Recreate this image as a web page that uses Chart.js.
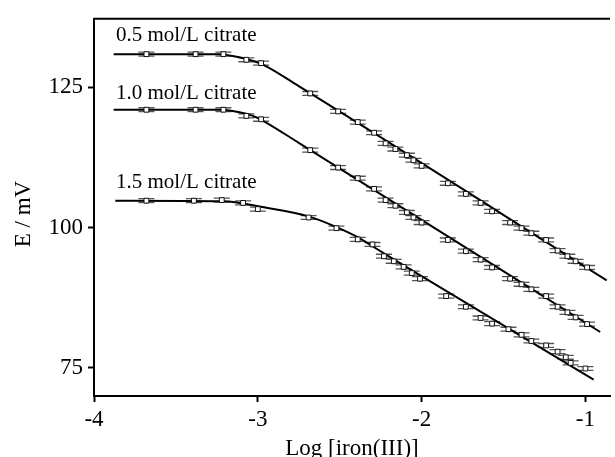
<!DOCTYPE html>
<html>
<head>
<meta charset="utf-8">
<script src="https://cdn.jsdelivr.net/npm/chart.js@4"></script>
<style>
  html, body { margin: 0; padding: 0; background: #fff; }
  #chart { display: block; }
</style>
</head>
<body>
<canvas id="chart" width="615" height="457"></canvas>
<script>
// log [iron(III)] for the 0.5 and 1.0 mol/L series
const LOG_FE_A = [-3.68, -3.38, -3.21, -3.07, -2.98, -2.68, -2.51, -2.39, -2.29, -2.22, -2.16, -2.09, -2.05, -2.00,
  -1.84, -1.73, -1.64, -1.57, -1.46, -1.39, -1.33, -1.24, -1.17, -1.11, -1.06, -0.99];
// log [iron(III)] for the 1.5 mol/L series
const LOG_FE_B = [-3.68, -3.39, -3.22, -3.09, -3.00, -2.69, -2.52, -2.39, -2.30, -2.23, -2.17, -2.11, -2.06, -2.01,
  -1.85, -1.73, -1.64, -1.57, -1.47, -1.39, -1.33, -1.24, -1.17, -1.12, -1.09, -1.00];

const E_05 = [130.9, 130.9, 130.9, 129.9, 129.3, 123.9, 120.7, 118.8, 116.9, 115.0, 114.0, 112.9, 112.0, 111.0,
  107.9, 106.0, 104.4, 102.9, 100.9, 99.9, 99.0, 97.8, 95.9, 94.9, 94.0, 92.9];
const E_10 = [121.0, 121.0, 121.0, 119.9, 119.3, 113.8, 110.7, 108.8, 106.9, 104.9, 103.9, 102.7, 101.8, 100.9,
  97.8, 95.8, 94.3, 92.9, 90.9, 89.9, 89.0, 87.8, 85.9, 84.9, 84.0, 82.8];
const E_15 = [104.8, 104.8, 104.9, 104.4, 103.3, 101.8, 99.9, 97.9, 97.0, 94.9, 94.0, 93.0, 91.9, 90.9,
  87.8, 85.9, 83.9, 82.9, 81.9, 80.9, 79.8, 79.0, 77.9, 76.9, 75.9, 74.9];
const ERR = 0.35; // +/- mV

// fitted curves
const FIT_X_05 = [-3.88, -3.24, -3.12, -3.03, -2.96, -2.75, -0.87];
const FIT_E_05 = [130.9, 130.9, 130.4, 129.7, 128.9, 125.2, 90.6];
const FIT_X_10 = [-3.88, -3.24, -3.12, -3.03, -2.96, -2.75, -0.91];
const FIT_E_10 = [121.0, 121.0, 120.6, 119.9, 118.9, 115.1, 81.4];
const FIT_X_15 = [-3.87, -3.21, -2.98, -2.69, -2.52, -2.39, -2.29, -2.15, -1.98, -0.95];
const FIT_E_15 = [104.8, 104.7, 103.7, 102.0, 100.1, 98.3, 96.5, 94.0, 91.0, 72.9];

const LABELS = ['0.5 mol/L citrate', '1.0 mol/L citrate', '1.5 mol/L citrate'];
const X_TICKS = [-4, -3, -2, -1];
const Y_TICKS = [75, 100, 125];
const Y_TITLE = 'E / mV';

const SERIF = '"Liberation Serif", "Times New Roman", serif';
const LABEL_POS = [[116, 41], [116, 99], [116, 188]];

const pts = (xs, ys) => xs.map((x, i) => ({ x, y: ys[i] }));

function pointSet(xs, ys) {
  return {
    data: pts(xs, ys),
    showLine: false,
    pointStyle: 'rect',
    pointRadius: 3.4,
    pointBackgroundColor: '#fff',
    pointBorderColor: '#111',
    pointBorderWidth: 1,
    errorBars: true,
    order: 0
  };
}

function fitLine(xs, ys) {
  return {
    data: pts(xs, ys),
    showLine: true,
    borderColor: '#000',
    borderWidth: 2,
    pointRadius: 0,
    cubicInterpolationMode: 'monotone',
    order: 1
  };
}

const errorBarPlugin = {
  id: 'errorBars',
  beforeDatasetsDraw(chart) {
    const { ctx, scales: { x, y } } = chart;
    ctx.save();
    ctx.strokeStyle = '#555';
    ctx.lineWidth = 1.3;
    chart.data.datasets.forEach(ds => {
      if (!ds.errorBars) return;
      ds.data.forEach(p => {
        const px = x.getPixelForValue(p.x);
        const top = y.getPixelForValue(p.y + ERR);
        const bot = y.getPixelForValue(p.y - ERR);
        ctx.beginPath();
        ctx.moveTo(px, top); ctx.lineTo(px, bot);
        ctx.moveTo(px - 8, top); ctx.lineTo(px + 8, top);
        ctx.moveTo(px - 8, bot); ctx.lineTo(px + 8, bot);
        ctx.stroke();
      });
    });
    ctx.restore();
  },
  afterDraw(chart) {
    const { ctx, chartArea } = chart;
    ctx.save();
    // top frame line
    ctx.strokeStyle = '#000';
    ctx.lineWidth = 2;
    ctx.beginPath();
    ctx.moveTo(chartArea.left, chartArea.top);
    ctx.lineTo(chartArea.right, chartArea.top);
    ctx.stroke();
    // series labels
    ctx.fillStyle = '#000';
    ctx.font = '21px ' + SERIF;
    ctx.textBaseline = 'alphabetic';
    LABELS.forEach((t, i) => ctx.fillText(t, LABEL_POS[i][0], LABEL_POS[i][1]));
    // y axis title
    ctx.font = '23px ' + SERIF;
    ctx.textAlign = 'center';
    ctx.textBaseline = 'middle';
    ctx.translate(24, 214);
    ctx.rotate(-Math.PI / 2);
    ctx.fillText(Y_TITLE, 0, 0);
    ctx.restore();
  }
};

new Chart(document.getElementById('chart'), {
  type: 'scatter',
  data: {
    datasets: [
      pointSet(LOG_FE_A, E_05),
      pointSet(LOG_FE_A, E_10),
      pointSet(LOG_FE_B, E_15),
      fitLine(FIT_X_05, FIT_E_05),
      fitLine(FIT_X_10, FIT_E_10),
      fitLine(FIT_X_15, FIT_E_15)
    ]
  },
  options: {
    responsive: false,
    animation: false,
    layout: { padding: { top: 17, right: 0, left: 0, bottom: 0 } },
    plugins: { legend: { display: false }, tooltip: { enabled: false } },
    scales: {
      x: {
        type: 'linear',
        min: -4,
        max: -0.85,
        afterBuildTicks: s => { s.ticks = X_TICKS.map(v => ({ value: v })); },
        afterFit: s => { s.height = 61; },
        border: { display: true, color: '#000', width: 2 },
        grid: { drawOnChartArea: false, drawTicks: true, tickLength: 6, tickWidth: 2, color: '#000' },
        ticks: { color: '#000', padding: 4, font: { family: SERIF, size: 23 }, maxRotation: 0 },
        title: { display: true, text: 'Log [iron(III)]', color: '#000', font: { family: SERIF, size: 23 }, padding: { top: 0, bottom: -6 } }
      },
      y: {
        type: 'linear',
        min: 70,
        max: 137.2,
        afterBuildTicks: s => { s.ticks = Y_TICKS.map(v => ({ value: v })); },
        afterFit: s => { s.width = 94; },
        border: { display: true, color: '#000', width: 2 },
        grid: { drawOnChartArea: false, drawTicks: true, tickLength: 6, tickWidth: 2, color: '#000' },
        ticks: { color: '#000', padding: 5, font: { family: SERIF, size: 23 } }
      }
    }
  },
  plugins: [errorBarPlugin]
});
</script>
</body>
</html>
